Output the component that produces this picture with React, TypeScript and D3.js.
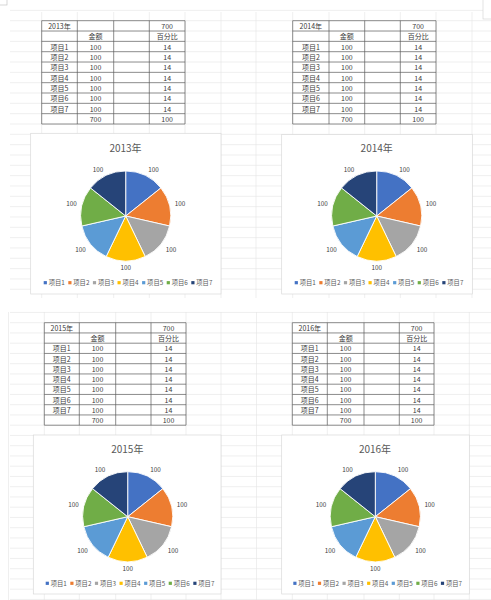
import React from 'react';
import * as d3 from 'd3';

// ---------- data ----------
const years = ['2013年', '2014年', '2015年', '2016年'];
const items = ['项目1', '项目2', '项目3', '项目4', '项目5', '项目6', '项目7'];
const amounts2013 = [100, 100, 100, 100, 100, 100, 100];
const amounts2014 = [100, 100, 100, 100, 100, 100, 100];
const amounts2015 = [100, 100, 100, 100, 100, 100, 100];
const amounts2016 = [100, 100, 100, 100, 100, 100, 100];
const percents = [14, 14, 14, 14, 14, 14, 14];
const headerAmount = '金额';
const headerPercent = '百分比';
const totalAmount = 700;
const totalPercent = 100;
const colors = ['#4472C4', '#ED7D31', '#A5A5A5', '#FFC000', '#5B9BD5', '#70AD47', '#264478'];

const amountsByYear = [amounts2013, amounts2014, amounts2015, amounts2016];

// ---------- layout ----------
const W = 491;
const H = 600;
const FONT = '"Noto Sans CJK SC", "Noto Sans", sans-serif';

const tableLayouts = [
  { cols: [41.7, 77.3, 113.7, 149.3, 185], top: 20.7, rowH: 10.33 },
  { cols: [292.7, 329, 364.7, 400.3, 436], top: 20.7, rowH: 10.33 },
  { cols: [44.3, 79.3, 115.7, 151, 186], top: 322.7, rowH: 10.25 },
  { cols: [292.3, 327.3, 364, 399.3, 434], top: 322.7, rowH: 10.25 },
];

const chartLayouts = [
  { box: [30.7, 133.3, 221, 294], title: [125.5, 147.5], center: [125.7, 216], legendY: 282.7 },
  { box: [281.7, 134.5, 472.3, 294], title: [376.7, 147.5], center: [376.7, 216], legendY: 282.7 },
  { box: [33.3, 435, 221, 594], title: [127.3, 448.8], center: [127.7, 516.7], legendY: 583.3 },
  { box: [281.7, 435, 469.3, 594], title: [375, 448.8], center: [375.3, 516.7], legendY: 583.3 },
];

const upperV = [41.7, 77.3, 113.7, 149.3, 185, 221, 256, 292.7, 329, 364.7, 400.3, 436, 472];
const lowerV = [8.5, 44.3, 79.3, 115.7, 151, 186, 221, 256.5, 292.3, 327.3, 364, 399.3, 434, 469.3];

function Grid() {
  const lines: React.ReactNode[] = [];
  for (let y = 20.7 - 10.33; y < 298; y += 10.33) {
    lines.push(<line key={'hu' + y} x1={10} x2={W} y1={y} y2={y} />);
  }
  for (let y = 322.7 - 10.25; y < H; y += 10.25) {
    lines.push(<line key={'hl' + y} x1={10} x2={W} y1={y} y2={y} />);
  }
  upperV.forEach((x) => lines.push(<line key={'vu' + x} x1={x} x2={x} y1={12} y2={298} />));
  lowerV.forEach((x) => lines.push(<line key={'vl' + x} x1={x} x2={x} y1={312} y2={H} />));
  return (
    <g stroke="#e4e4e4" strokeWidth={0.6}>
      {lines}
    </g>
  );
}

function Table({ idx }: { idx: number }) {
  const L = tableLayouts[idx];
  const amounts = amountsByYear[idx];
  const nRows = items.length + 3;
  const y = d3.scaleLinear().domain([0, nRows]).range([L.top, L.top + L.rowH * nRows]);
  const colCenter = (c: number) => (L.cols[c] + L.cols[c + 1]) / 2;
  const cells: { c: number; r: number; t: string }[] = [];
  cells.push({ c: 0, r: 0, t: years[idx] });
  cells.push({ c: 3, r: 0, t: String(totalAmount) });
  cells.push({ c: 1, r: 1, t: headerAmount });
  cells.push({ c: 3, r: 1, t: headerPercent });
  items.forEach((it, i) => {
    cells.push({ c: 0, r: i + 2, t: it });
    cells.push({ c: 1, r: i + 2, t: String(amounts[i]) });
    cells.push({ c: 3, r: i + 2, t: String(percents[i]) });
  });
  cells.push({ c: 1, r: nRows - 1, t: String(d3.sum(amounts)) });
  cells.push({ c: 3, r: nRows - 1, t: String(totalPercent) });
  const x0 = L.cols[0];
  const x1 = L.cols[L.cols.length - 1];
  return (
    <g>
      <rect x={x0} y={y(0)} width={x1 - x0} height={y(nRows) - y(0)} fill="#fff" />
      <g stroke="#5a5a5a" strokeWidth={0.7}>
        {d3.range(nRows + 1).map((r) => (
          <line key={'r' + r} x1={x0} x2={x1} y1={y(r)} y2={y(r)} />
        ))}
        {L.cols.map((c, i) => (
          <line key={'c' + i} x1={c} x2={c} y1={y(0)} y2={y(nRows)} />
        ))}
      </g>
      {cells.map((cl, i) => (
        <text
          key={i}
          x={colCenter(cl.c)}
          y={y(cl.r + 0.5)}
          textAnchor="middle"
          dominantBaseline="central"
          fontFamily={FONT}
          fontSize={7}
          fill="#3a3a3a"
        >
          {cl.t}
        </text>
      ))}
    </g>
  );
}

function PieChart({ idx }: { idx: number }) {
  const L = chartLayouts[idx];
  const amounts = amountsByYear[idx];
  const R = 45;
  const [cx, cy] = L.center;
  const pie = d3.pie<number>().sort(null).value((d) => d);
  const arcs = pie(amounts);
  const arcGen = d3.arc<d3.PieArcDatum<number>>().innerRadius(0).outerRadius(R);
  const clamp = (v: number) => Math.max(-1, Math.min(1, v));
  const hw = 8.5;
  const hh = 4.5;
  const step = 24.6;
  const legendStart = cx - 82;
  return (
    <g>
      <rect
        x={L.box[0]}
        y={L.box[1]}
        width={L.box[2] - L.box[0]}
        height={L.box[3] - L.box[1]}
        fill="#fff"
        stroke="#d9d9d9"
        strokeWidth={0.7}
      />
      <text
        x={L.title[0]}
        y={L.title[1]}
        textAnchor="middle"
        dominantBaseline="central"
        fontFamily={FONT}
        fontSize={10}
        fill="#595959"
      >
        {years[idx]}
      </text>
      <g transform={`translate(${cx},${cy})`}>
        {arcs.map((a, i) => (
          <path key={i} d={arcGen(a) || ''} fill={colors[i]} stroke="#fff" strokeWidth={0.9} />
        ))}
        {arcs.map((a, i) => {
          const m = (a.startAngle + a.endAngle) / 2;
          const s = Math.sin(m);
          const c = -Math.cos(m);
          const px = (R + 2) * s + hw * clamp(2 * s);
          const py = (R + 2) * c + hh * clamp(2 * c);
          return (
            <text
              key={'l' + i}
              x={px}
              y={py}
              textAnchor="middle"
              dominantBaseline="central"
              fontFamily={FONT}
              fontSize={6.3}
              fill="#404040"
            >
              {a.data}
            </text>
          );
        })}
      </g>
      {items.map((it, i) => {
        const x = legendStart + i * step;
        return (
          <g key={'lg' + i}>
            <rect x={x} y={L.legendY - 1.6} width={3.2} height={3.2} fill={colors[i]} />
            <text
              x={x + 5}
              y={L.legendY}
              dominantBaseline="central"
              fontFamily={FONT}
              fontSize={6.3}
              fill="#595959"
            >
              {it}
            </text>
          </g>
        );
      })}
    </g>
  );
}

export default function App() {
  return (
    <svg
      width={W}
      height={H}
      viewBox={`0 0 ${W} ${H}`}
      style={{ position: 'absolute', left: 0, top: 0, background: '#fff' }}
    >
      <rect x={0} y={0} width={W} height={H} fill="#fff" />
      <Grid />
      <rect x={-1} y={-1} width={8} height={6} fill="#fff" stroke="#bdbdbd" strokeWidth={0.6} />
      <rect x={483} y={-1} width={10} height={20} fill="#fff" stroke="#cfcfcf" strokeWidth={0.6} />
      {years.map((_, i) => (
        <Table key={'t' + i} idx={i} />
      ))}
      {years.map((_, i) => (
        <PieChart key={'p' + i} idx={i} />
      ))}
    </svg>
  );
}
